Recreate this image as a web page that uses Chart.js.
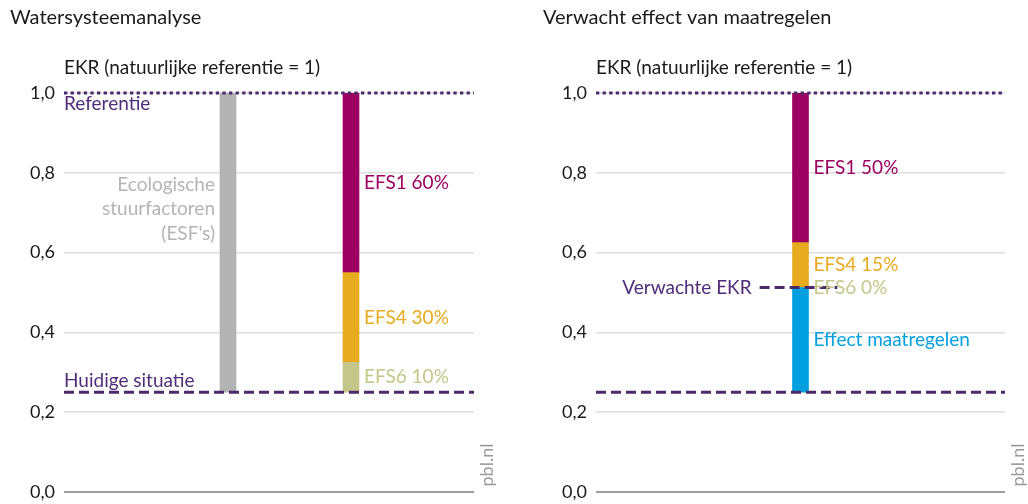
<!DOCTYPE html>
<html>
<head>
<meta charset="utf-8">
<script src="https://cdn.jsdelivr.net/npm/chart.js@4.4.1/dist/chart.umd.min.js"></script>
<style>
  body { margin: 0; background: #fff; }
  #wrap { position: relative; width: 1028px; height: 504px; }
  .panel { position: absolute; top: 0; width: 514px; height: 504px; }
</style>
</head>
<body>
<div id="wrap">
  <div class="panel" style="left:0"><canvas id="links" width="514" height="504"></canvas></div>
  <div class="panel" style="left:514px"><canvas id="rechts" width="514" height="504"></canvas></div>
</div>
<script>
// EKR-waarden
const referentie = 1.0;
const huidigeSituatie = 0.25;
const yTicks = [0, 0.2, 0.4, 0.6, 0.8, 1.0];

// watersysteemanalyse: aandeel van de stuurfactoren in het gat tot de referentie (van onder naar boven)
const analyseFactoren = ["EFS6", "EFS4", "EFS1"];
const analyseAandeel = [10, 30, 60];
const analyseKleuren = ["#c4c68a", "#e6ab1f", "#9c0061"];

// verwacht effect van maatregelen (van onder naar boven)
const effectFactoren = ["Effect maatregelen", "EFS6", "EFS4", "EFS1"];
const effectAandeel = [35, 0, 15, 50];
const effectKleuren = ["#009fdf", "#c4c68a", "#e6ab1f", "#9c0061"];

const FONT = "Lato, 'Open Sans', sans-serif";
const PAARS = "#4a2a6b";
const PAARS_TEKST = "#4f2d78";
const LABEL = 19;

// zet percentages om in [onder, boven] binnen het gat huidig -> referentie
function segmenten(aandeel) {
  let lo = huidigeSituatie;
  return aandeel.map(a => {
    const hi = lo + a / 100 * (referentie - huidigeSituatie);
    const s = [lo, hi];
    lo = hi;
    return s;
  });
}

function lijn(y, x0, x1, dash) {
  return {
    type: "line",
    data: [{ x: x0, y: y }, { x: x1, y: y }],
    borderColor: PAARS,
    borderWidth: 3,
    borderDash: dash,
    borderCapStyle: "butt",
    pointRadius: 0,
    clip: false,
    order: 0
  };
}

function staaf(x, range, kleur) {
  return {
    type: "bar",
    data: [{ x: x, y: range }],
    backgroundColor: kleur,
    barThickness: 16,
    grouped: false,
    order: 1
  };
}

function tekst(ctx, s, x, y, kleur, size, align) {
  ctx.save();
  ctx.font = size + "px " + FONT;
  ctx.fillStyle = kleur;
  ctx.textAlign = align || "left";
  ctx.textBaseline = "middle";
  ctx.fillText(s, x, y);
  ctx.restore();
}

function maakPaneel(id, cfg) {
  const annotaties = {
    id: "annotaties",
    afterDatasetsDraw(chart) {
      const ctx = chart.ctx;
      const area = chart.chartArea;
      const y = chart.scales.y;
      tekst(ctx, cfg.titel, cfg.titelX, 18, "#1a1a1a", 20);
      tekst(ctx, "EKR (natuurlijke referentie = 1)", area.left, 68, "#1a1a1a", LABEL);
      cfg.teksten(ctx, chart, area, y);
      // bronvermelding
      ctx.save();
      ctx.translate(area.right + 13, 465);
      ctx.rotate(-Math.PI / 2);
      tekst(ctx, "pbl.nl", 0, 0, "#9a9a9a", 18, "center");
      ctx.restore();
    }
  };

  return new Chart(document.getElementById(id), {
    type: "bar",
    data: { datasets: cfg.datasets },
    options: {
      responsive: false,
      animation: false,
      layout: { padding: { top: 93, right: cfg.rechts, bottom: 12, left: 0 } },
      plugins: { legend: { display: false }, tooltip: { enabled: false } },
      scales: {
        x: { type: "linear", min: 0, max: 1, offset: false, display: false },
        y: {
          min: 0,
          max: 1,
          afterBuildTicks: s => { s.ticks = yTicks.map(v => ({ value: v })); },
          afterFit: s => {
            s.width = cfg.asBreedte;
            s.paddingTop = 0;
            s.paddingBottom = 0;
          },
          border: { display: false },
          grid: {
            drawTicks: false,
            color: c => c.tick.value === 0 ? "#9d9d9d" : "#dddddd",
            lineWidth: c => c.tick.value === 0 ? 2 : 1.5
          },
          ticks: {
            padding: 9,
            color: "#1a1a1a",
            font: { family: FONT, size: 18 },
            callback: v => v.toFixed(1).replace(".", ",")
          }
        }
      }
    },
    plugins: [annotaties]
  });
}

// linker paneel
const analyseX = 0.70;
const esfX = 0.40;
const analyseSeg = segmenten(analyseAandeel);
maakPaneel("links", {
  titel: "Watersysteemanalyse",
  titelX: 10,
  rechts: 40,
  asBreedte: 64,
  datasets: [
    lijn(referentie, 0, 1, [3.3, 3.3]),
    lijn(huidigeSituatie, 0, 1, [10, 5]),
    staaf(esfX, [huidigeSituatie, referentie], "#b2b3b2"),
    ...analyseSeg.map((s, i) => staaf(analyseX, s, analyseKleuren[i]))
  ],
  teksten(ctx, chart, area, y) {
    tekst(ctx, "Referentie", area.left, y.getPixelForValue(referentie) + 11, PAARS_TEKST, LABEL);
    tekst(ctx, "Huidige situatie", area.left, y.getPixelForValue(huidigeSituatie) - 11, PAARS_TEKST, LABEL);
    const gx = chart.scales.x.getPixelForValue(esfX) - 13;
    const gy = y.getPixelForValue(0.77);
    ["Ecologische", "stuurfactoren", "(ESF's)"].forEach((r, i) =>
      tekst(ctx, r, gx, gy + i * 24.5, "#b4b4b4", LABEL, "right"));
    const lx = chart.scales.x.getPixelForValue(analyseX) + 13;
    analyseSeg.forEach((s, i) => {
      tekst(ctx, analyseFactoren[i] + " " + analyseAandeel[i] + "%", lx,
        y.getPixelForValue((s[0] + s[1]) / 2), analyseKleuren[i], LABEL);
    });
  }
});

// rechter paneel
const effectX = 0.50;
const effectSeg = segmenten(effectAandeel);
const verwachteEKR = effectSeg[0][1];
maakPaneel("rechts", {
  titel: "Verwacht effect van maatregelen",
  titelX: 29,
  rechts: 23,
  asBreedte: 82,
  datasets: [
    lijn(referentie, 0, 1, [3.3, 3.3]),
    lijn(huidigeSituatie, 0, 1, [10, 5]),
    lijn(verwachteEKR, 0.40, 0.59, [10, 5]),
    ...effectSeg.map((s, i) => staaf(effectX, s, effectKleuren[i]))
  ],
  teksten(ctx, chart, area, y) {
    const x = chart.scales.x;
    tekst(ctx, "Verwachte EKR", x.getPixelForValue(0.40) - 8, y.getPixelForValue(verwachteEKR),
      PAARS_TEKST, LABEL, "right");
    const lx = x.getPixelForValue(effectX) + 13;
    effectSeg.forEach((s, i) => {
      const label = i === 0 ? effectFactoren[i] : effectFactoren[i] + " " + effectAandeel[i] + "%";
      tekst(ctx, label, lx, y.getPixelForValue((s[0] + s[1]) / 2), effectKleuren[i], LABEL);
    });
  }
});
</script>
</body>
</html>
